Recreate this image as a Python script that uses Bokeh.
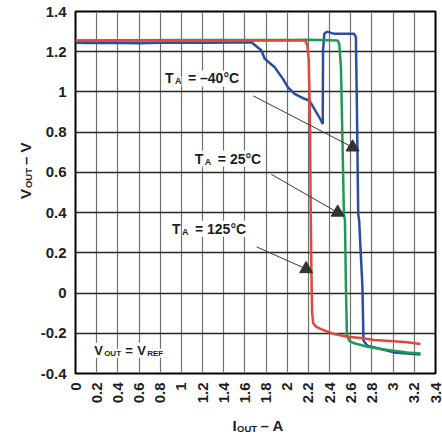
import math
from bokeh.plotting import figure
from bokeh.layouts import column, row
from bokeh.models import Label, FixedTicker, Range1d
from bokeh.embed import file_html
from bokeh.resources import INLINE

# ---------------- data ----------------
x_ticks = [0, 0.2, 0.4, 0.6, 0.8, 1, 1.2, 1.4, 1.6, 1.8, 2, 2.2, 2.4, 2.6, 2.8, 3, 3.2, 3.4]
x_tick_labels = ["0", "0.2", "0.4", "0.6", "0.8", "1", "1.2", "1.4", "1.6", "1.8", "2",
                 "2.2", "2.4", "2.6", "2.8", "3", "3.2", "3.4"]
y_ticks = [-0.4, -0.2, 0, 0.2, 0.4, 0.6, 0.8, 1, 1.2, 1.4]
y_tick_labels = ["-0.4", "-0.2", "0", "0.2", "0.4", "0.6", "0.8", "1", "1.2", "1.4"]

# T_A = 125 C (red)
iout_125 = [0, 0.5, 1.0, 1.5, 2.0, 2.17, 2.19, 2.203, 2.21, 2.215, 2.222, 2.228, 2.235,
            2.245, 2.272, 2.319, 2.444, 2.57, 2.695, 2.82, 3.008, 3.133, 3.258]
vout_125 = [1.255, 1.256, 1.256, 1.256, 1.256, 1.256, 1.23, 1.16, 1.0, 0.79, 0.39, 0.11,
            -0.10, -0.15, -0.167, -0.179, -0.204, -0.217, -0.223, -0.233, -0.240, -0.245, -0.253]

# T_A = 25 C (green)
iout_25 = [0, 0.5, 1.0, 1.5, 2.0, 2.2, 2.3, 2.476, 2.491, 2.507, 2.52, 2.535, 2.545,
           2.554, 2.563, 2.585, 2.632, 2.758, 2.883, 3.008, 3.133, 3.258]
vout_25 = [1.256, 1.257, 1.258, 1.258, 1.258, 1.259, 1.258, 1.256, 1.239, 1.123, 0.792,
           0.394, 0.36, 0.028, -0.204, -0.237, -0.250, -0.267, -0.278, -0.287, -0.295, -0.300]

# T_A = -40 C (blue)
iout_m40 = [0, 0.1, 0.3, 0.6, 0.9, 1.2, 1.5, 1.662, 1.756, 1.787, 1.881, 1.959, 2.006,
            2.069, 2.162, 2.209, 2.256, 2.319, 2.335, 2.338, 2.35, 2.376, 2.444, 2.632,
            2.648, 2.657, 2.67, 2.679, 2.71, 2.72, 2.758, 2.883, 3.008, 3.258]
vout_m40 = [1.245, 1.243, 1.245, 1.242, 1.246, 1.244, 1.246, 1.247, 1.206, 1.165, 1.123,
            1.065, 1.023, 0.990, 0.966, 0.957, 0.916, 0.858, 0.841, 1.206, 1.289, 1.30,
            1.289, 1.289, 1.272, 0.957, 0.394, 0.36, 0.028, -0.237, -0.262, -0.278, -0.295, -0.306]

# annotation arrows (start -> head)
arrow_x0 = [1.68, 1.85, 1.71]
arrow_y0 = [0.98, 0.59, 0.23]
arrow_x1 = [2.617, 2.476, 2.178]
arrow_y1 = [0.725, 0.401, 0.12]

FONT = "Liberation Sans"
TXT = "#1e1e1e"
X0, X1, Y0, Y1 = 0, 3.4, -0.4, 1.4
YSTRIP_W = 37

# ---------------- main chart ----------------
p = figure(width=442 - YSTRIP_W, height=415, output_backend="svg", toolbar_location=None,
           x_range=Range1d(X0, X1), y_range=Range1d(Y0, Y1),
           min_border_left=73 - YSTRIP_W, min_border_right=7, min_border_top=11,
           min_border_bottom=42)
p.background_fill_color = "white"
p.border_fill_color = "white"
p.outline_line_color = "black"
p.outline_line_width = 2

xt = FixedTicker(ticks=x_ticks)
yt = FixedTicker(ticks=y_ticks)
p.xaxis.ticker = xt
p.yaxis.ticker = yt
p.xaxis.major_label_overrides = {t: l for t, l in zip(x_ticks, x_tick_labels)}
p.yaxis.major_label_overrides = {t: l for t, l in zip(y_ticks, y_tick_labels)}
p.xaxis.major_label_orientation = math.pi / 2
for ax in (p.xaxis, p.yaxis):
    ax.major_tick_in = 0
    ax.major_tick_out = 0
    ax.minor_tick_in = 0
    ax.minor_tick_out = 0
    ax.axis_line_color = None
    ax.major_label_text_font = FONT
    ax.major_label_text_font_style = "bold"
    ax.major_label_text_font_size = "15px"
    ax.major_label_text_color = TXT
    ax.major_label_standoff = 9
    ax.axis_label = None

p.xgrid.ticker = xt
p.xgrid.grid_line_color = "#707070"
p.xgrid.grid_line_width = 1.2
p.ygrid.ticker = yt
p.ygrid.grid_line_color = "#262626"
p.ygrid.grid_line_width = 1.3

# curves
p.line(iout_m40, vout_m40, line_color="#2b4d9e", line_width=2.5)
p.line(iout_25, vout_25, line_color="#1e9a56", line_width=2.5)
p.line(iout_125, vout_125, line_color="#e0483e", line_width=2.5)

# arrows
p.segment(arrow_x0, arrow_y0, arrow_x1, arrow_y1, line_color="#3a3a3a", line_width=1)
p.scatter(arrow_x1, arrow_y1, marker="triangle", size=13, fill_color="#333333",
          line_color="#333333")


def composite(fig, x, y, parts, angle=0.0, bg=None):
    """parts: (text, font px, is_subscript, offset along text direction in px)"""
    for text, size, sub, off in parts:
        if angle == 0:
            xo, yo = off, (-3 if sub else 0)
        else:
            xo, yo = (2.5 if sub else 0), off
        fig.add_layout(Label(x=x, y=y, text=text, x_offset=xo, y_offset=yo, angle=angle,
                             text_font=FONT, text_font_style="bold",
                             text_font_size=f"{size}px", text_color=TXT,
                             text_align="left", text_baseline="alphabetic",
                             background_fill_color=bg))


composite(p, 0.845, 1.067, [("T", 14, False, 0), ("A", 9, True, 10), ("= –40°C", 14, False, 23)], bg="white")
composite(p, 1.127, 0.669, [("T", 14, False, 0), ("A", 9, True, 10), ("= 25°C", 14, False, 23)], bg="white")
composite(p, 0.911, 0.320, [("T", 14, False, 0), ("A", 9, True, 10), ("= 125°C", 14, False, 23)], bg="white")
composite(p, 0.176, -0.284, [("V", 13, False, 0), ("OUT", 8, True, 10), ("=", 13, False, 31),
                             ("V", 13, False, 43), ("REF", 8, True, 53)], bg="white")


# ---------------- axis-title strips (pixel-unit helper figures) ----------------
def strip(w, h):
    f = figure(width=w, height=h, output_backend="svg", toolbar_location=None,
               x_range=Range1d(0, w), y_range=Range1d(0, h),
               x_axis_type=None, y_axis_type=None,
               min_border_left=0, min_border_right=0, min_border_top=0, min_border_bottom=0)
    f.outline_line_color = None
    f.background_fill_color = "white"
    f.border_fill_color = "white"
    f.grid.visible = False
    return f


ystrip = strip(YSTRIP_W, 415)
composite(ystrip, 25, 415 - 215, [("V", 15, False, 0), ("OUT", 9.5, True, 11), ("– V", 15, False, 34)],
          angle=math.pi / 2)

xstrip = strip(442, 25)
composite(xstrip, 232, 15, [("I", 15, False, 0), ("OUT", 9.5, True, 4.5), ("– A", 15, False, 28)])

layout = column(row(ystrip, p, spacing=0), xstrip, spacing=0)

open("out.html", "w").write(file_html(layout, INLINE))
